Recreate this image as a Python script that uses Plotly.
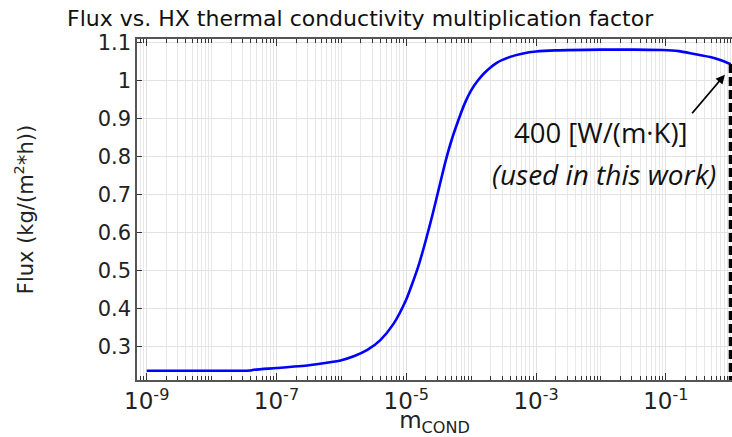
import plotly.graph_objects as go

# Heat-exchanger conductivity multiplication factor (log10) and resulting flux
log_m_cond = [-9.0, -8.5, -8.0, -7.4, -7.37, -7.0, -6.5, -6.2, -6.0, -5.8, -5.6,
              -5.4, -5.2, -5.0, -4.9, -4.8, -4.7, -4.6, -4.5, -4.4, -4.3, -4.2,
              -4.1, -4.0, -3.9, -3.8, -3.6, -3.4, -3.2, -3.0, -2.7, -2.0, -1.5,
              -1.05, -0.8, -0.6, -0.48, -0.3, -0.15, 0.0]
flux = [0.2374, 0.2374, 0.2375, 0.2378, 0.2395, 0.2445, 0.2520, 0.2590, 0.2650,
        0.2760, 0.2920, 0.3180, 0.3600, 0.4250, 0.4700, 0.5200, 0.5800, 0.6450,
        0.7150, 0.7850, 0.8450, 0.8950, 0.9400, 0.9750, 1.0000, 1.0200, 1.0480,
        1.0630, 1.0720, 1.0770, 1.0800, 1.0820, 1.0820, 1.0810, 1.0780, 1.0720,
        1.0680, 1.0620, 1.0540, 1.0440]
m_cond = [10 ** v for v in log_m_cond]

x_tick_vals = [1e-9, 1e-7, 1e-5, 1e-3, 1e-1]
x_tick_text = ["10<sup>-9</sup>", "10<sup>-7</sup>", "10<sup>-5</sup>",
               "10<sup>-3</sup>", "10<sup>-1</sup>"]
y_tick_vals = [0.3, 0.4, 0.5, 0.6, 0.7, 0.8, 0.9, 1.0, 1.1]
y_tick_text = ["0.3", "0.4", "0.5", "0.6", "0.7", "0.8", "0.9", "1", "1.1"]

used_m_cond = 1.0  # value used in this work (400 W/(m·K))
y_min, y_max = 0.213, 1.11

fig = go.Figure()
fig.add_trace(go.Scatter(x=m_cond, y=flux, mode="lines",
                         line=dict(color="#0000ff", width=2.6, shape="spline",
                                   smoothing=0.6),
                         showlegend=False, hoverinfo="skip"))

# dashed marker for the conductivity used in this work
fig.add_shape(type="line", xref="x", yref="y",
              x0=used_m_cond, x1=used_m_cond, y0=flux[-1], y1=y_min,
              line=dict(color="black", width=4, dash="9px,4px"))

# arrow pointing at the curve end
fig.add_annotation(x=-0.09, y=1.016, xref="x", yref="y",
                   ax=-34, ay=40, showarrow=True, arrowhead=2, arrowsize=1.0,
                   arrowwidth=1.8, arrowcolor="black", text="")

fig.add_annotation(xref="paper", yref="paper", x=0.9294, y=0.727,
                   xanchor="right", yanchor="middle",
                   text="400 [W/(m·K)]", showarrow=False,
                   font=dict(family="Open Sans", size=27.5, color="#111111"))
fig.add_annotation(xref="paper", yref="paper", x=0.9765, y=0.605,
                   xanchor="right", yanchor="middle",
                   text="<i>(used in this work)</i>", showarrow=False,
                   font=dict(family="Open Sans", size=28, color="#111111"))

fig.update_layout(
    width=732, height=437,
    margin=dict(l=137, r=0, t=39, b=54),
    paper_bgcolor="white", plot_bgcolor="white",
    title=dict(text="Flux vs. HX thermal conductivity multiplication factor",
               x=0.492, xref="container", y=0.958, yref="container",
               xanchor="center", yanchor="middle",
               font=dict(family="DejaVu Sans", size=22, color="#111111")),
    font=dict(family="DejaVu Sans", color="#222222"),
)

fig.update_xaxes(
    type="log", range=[-9.15, 0.02],
    tickvals=x_tick_vals, ticktext=x_tick_text,
    tickfont=dict(size=23, color="#222222"),
    ticks="inside", ticklen=7, tickcolor="#333333", tickwidth=1,
    showline=True, linecolor="#555555", linewidth=1.5, mirror="ticks",
    showgrid=True, gridcolor="#e3e3e3", gridwidth=1,
    minor=dict(dtick="D1", ticks="inside", ticklen=4, tickcolor="#333333",
               showgrid=True, gridcolor="#e8e8e8", gridwidth=1),
    title=dict(text="m<sub>COND</sub>", font=dict(size=23, color="#222222"),
               standoff=7),
    zeroline=False,
)
fig.update_yaxes(
    range=[y_min, y_max],
    tickvals=y_tick_vals, ticktext=y_tick_text,
    tickfont=dict(size=21, color="#222222"),
    ticks="inside", ticklen=5, tickcolor="#333333",
    showline=True, linecolor="#555555", linewidth=1.5, mirror=False,
    showgrid=True, gridcolor="#e3e3e3", gridwidth=1,
    title=dict(text="Flux (kg/(m<sup>2</sup>*h))",
               font=dict(size=21, color="#222222"), standoff=58),
    zeroline=False,
)

fig.write_html("out.html")
